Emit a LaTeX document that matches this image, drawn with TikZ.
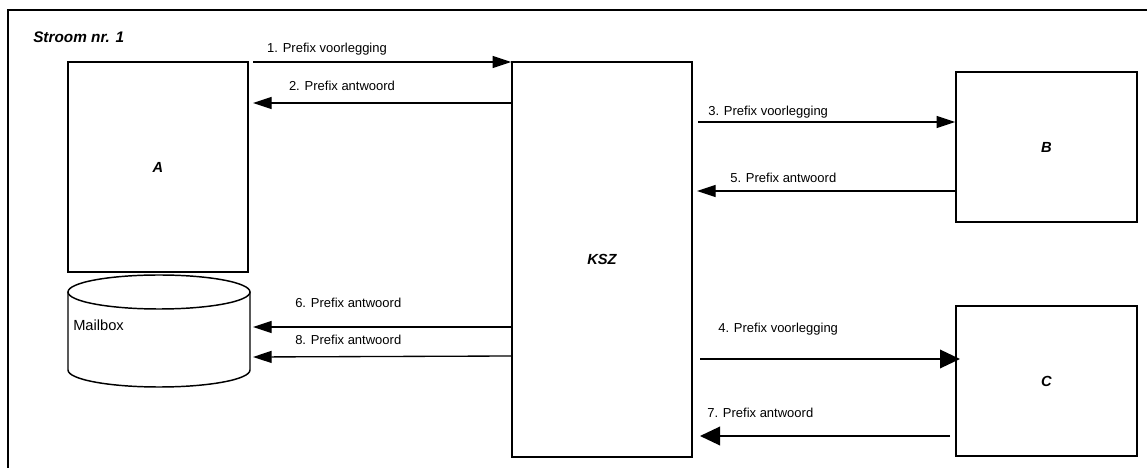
\documentclass[tikz,border=0pt]{standalone}
\usepackage{fontspec}
\setmainfont{Liberation Sans}
\usetikzlibrary{arrows.meta,calc}
\begin{document}
\begin{tikzpicture}[x=0.75pt,y=0.75pt,
  box/.style={draw,line width=1.1pt,inner sep=0pt,font=\fontsize{11}{13}\selectfont\bfseries\itshape},
  arr/.style={line width=1pt,-{Triangle[length=14pt,width=9pt]}},
  arrbig/.style={line width=1pt,-{Triangle[length=15pt,width=14pt]}},
  lbl/.style={font=\fontsize{9.75}{11}\selectfont,inner sep=0pt}]
\useasboundingbox (0,0) rectangle (1147,468);
\draw[line width=1.1pt] (8,0) -- (8,458) -- (1147,458);
\node[anchor=west,inner sep=0pt,font=\fontsize{11.5}{13}\selectfont\bfseries\itshape] (title) at (33,431) {Stroom nr. 1};
% boxes
\node[box,minimum width=180*0.75pt,minimum height=210*0.75pt] (A) at (158,301) {A};
\node[box,minimum width=180*0.75pt,minimum height=395*0.75pt] (KSZ) at (602,208.5) {KSZ};
\node[box,minimum width=181*0.75pt,minimum height=150*0.75pt] (B) at (1046.5,321) {B};
\node[box,minimum width=181*0.75pt,minimum height=150*0.75pt] (C) at (1046.5,87) {C};
% mailbox cylinder
\draw[line width=1.1pt] (159,176) ellipse[x radius=91*0.75pt,y radius=17*0.75pt];
\draw[line width=1.1pt] (68,176) -- (68,98) arc[start angle=180,end angle=360,x radius=91*0.75pt,y radius=17*0.75pt] -- (250,176);
\node[anchor=west,inner sep=0pt,font=\fontsize{11}{13}\selectfont] (mb) at (73,143) {Mailbox};
\coordinate (MB) at (250,130);
% free ends
\coordinate (s1) at (253,406);
\coordinate (e2) at (253,365);
\coordinate (s3) at (698,346);
\coordinate (e5) at (697,277);
\coordinate (s4) at (700,109);
\coordinate (t4) at (960,109);
\coordinate (s7) at (950,32);
\coordinate (e7) at (700,32);
\coordinate (e6) at (253,141);
\coordinate (e8) at (253,111);
% arrows
\draw[arr] (s1) -- (KSZ.west |- s1);
\draw[arr] (KSZ.west |- e2) -- (e2);
\draw[arr] (s3) -- (B.west |- s3);
\draw[arr] (B.west |- e5) -- (e5);
\draw[arrbig] (s4) -- (t4);
\draw[arrbig] (s7) -- (e7);
\draw[arr] (KSZ.west |- e6) -- (e6);
\draw[arr] (KSZ.west |- 0,112) -- (e8);
% labels
\node[lbl] (l1) at (327,419) {1. Prefix voorlegging};
\node[lbl] (l2) at (342,382) {2. Prefix antwoord};
\node[lbl,anchor=west] (l3) at (708,356) {3. Prefix voorlegging};
\node[lbl,anchor=west] (l5) at (730,290) {5. Prefix antwoord};
\node[lbl,anchor=west] (l4) at (718,139) {4. Prefix voorlegging};
\node[lbl,anchor=west] (l7) at (707,55) {7. Prefix antwoord};
\node[lbl,anchor=west] (l6) at (295,165) {6. Prefix antwoord};
\node[lbl,anchor=west] (l8) at (295,128) {8. Prefix antwoord};
\end{tikzpicture}
\end{document}
